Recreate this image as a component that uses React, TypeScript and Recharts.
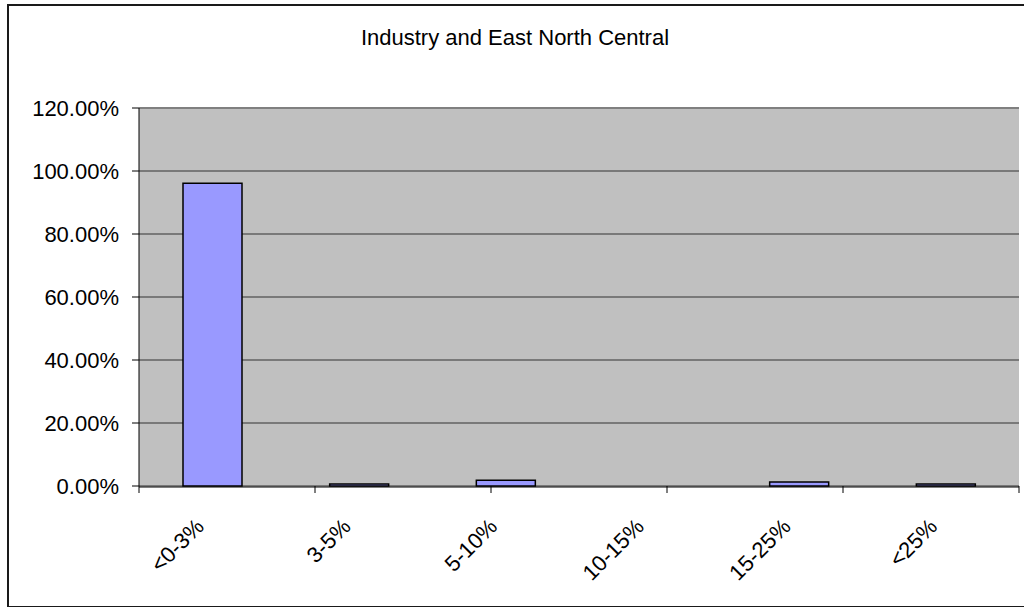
import { Bar, BarChart, CartesianGrid, ReferenceLine, XAxis, YAxis } from 'recharts';

const categories = ['<0-3%', '3-5%', '5-10%', '10-15%', '15-25%', '<25%'];
const shares = [96.1, 0.6, 1.8, 0, 1.3, 0.6];
const yTicks = [0, 20, 40, 60, 80, 100, 120];
const boundaries = [0, 1, 2, 3, 4, 5, 6];

const data = categories.map((range, i) => ({ range, share: shares[i] }));

const FONT = '"Liberation Sans", Arial, sans-serif';

function AngledTick({ x, y, payload }: any) {
  const tx = x - 7;
  const ty = y + 33;
  return (
    <text
      x={tx}
      y={ty}
      textAnchor="end"
      transform={`rotate(-45 ${tx} ${ty})`}
      fontSize={22}
      fontFamily={FONT}
      fill="#000"
    >
      {payload.value}
    </text>
  );
}

export default function App() {
  return (
    <div
      style={{
        position: 'absolute',
        left: 7,
        top: 4,
        width: 1020,
        height: 600,
        border: '2px solid #1a1a1a',
        background: '#fff',
        fontFamily: FONT,
      }}
    >
      <div
        style={{
          position: 'absolute',
          top: 19,
          left: 0,
          width: 1012,
          textAlign: 'center',
          fontSize: 22,
          color: '#000',
        }}
      >
        Industry and East North Central
      </div>
      <BarChart
        width={1020}
        height={600}
        data={data}
        margin={{ top: 102, right: 10, left: 0, bottom: 0 }}
        barCategoryGap="30%"
      >
        <CartesianGrid vertical={false} fill="#C0C0C0" stroke="#333" />
        <XAxis
          xAxisId="b"
          type="number"
          domain={[0, 6]}
          ticks={boundaries}
          height={1}
          axisLine={false}
          tickLine={{ stroke: '#000' }}
          tickSize={7}
          tickFormatter={() => ''}
        />
        <XAxis
          xAxisId="cat"
          dataKey="range"
          height={119}
          axisLine={{ stroke: '#000' }}
          tickLine={false}
          interval={0}
          tick={<AngledTick />}
        />
        <YAxis
          width={130}
          domain={[0, 120]}
          ticks={yTicks}
          tickFormatter={(v: number) => `${v.toFixed(2)}%`}
          tick={{ fontSize: 22, fill: '#000', fontFamily: FONT }}
          axisLine={{ stroke: '#000' }}
          tickLine={{ stroke: '#000' }}
          tickSize={7}
          tickMargin={13}
        />
        <ReferenceLine y={120} stroke="#808080" strokeWidth={2} xAxisId="cat" />
        <ReferenceLine x={6} stroke="#808080" strokeWidth={2} xAxisId="b" />
        <Bar
          xAxisId="cat"
          dataKey="share"
          fill="#9999FF"
          stroke="#000"
          strokeWidth={1.5}
          isAnimationActive={false}
        />
      </BarChart>
    </div>
  );
}
